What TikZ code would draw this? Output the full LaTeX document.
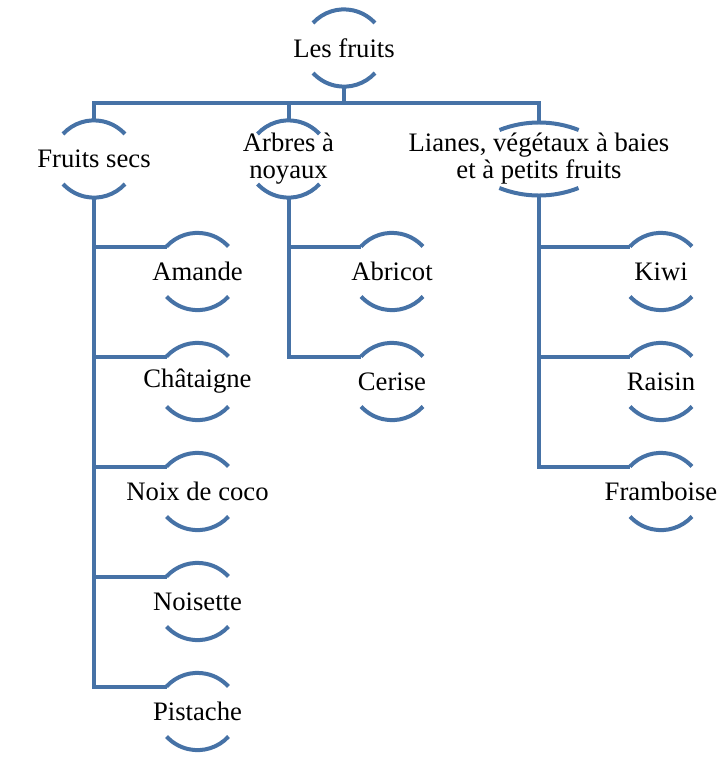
\documentclass[tikz,border=0pt]{standalone}
\usepackage{fontspec}
\setmainfont{Liberation Serif}
\usepackage{xcolor}
\usepackage{tikz}
\definecolor{linkblue}{RGB}{70,114,166}

\tikzset{
  link/.style={draw=linkblue, line width=3pt},
  brace/.style={draw=linkblue, line width=3pt},
  box/.style={inner sep=0pt, minimum width=46.5pt, minimum height=58.5pt, align=center,
    font=\rmfamily\fontsize{20}{20.3}\selectfont}
}
% arcs above and below a node: name, half chord, chord offset, radius, half angle
\newcommand{\brk}[5]{%
  \draw[brace] ([shift={(-#2,-#3)}]#1.center) arc[start angle=270-#5, end angle=270+#5, radius=#4];
  \draw[brace] ([shift={(#2,#3)}]#1.center) arc[start angle=90-#5, end angle=90+#5, radius=#4];}

\begin{document}
\begin{tikzpicture}[x=0.75pt,y=0.75pt,yscale=-1,xscale=1]
\useasboundingbox (0,0) rectangle (728,764);

% Text Node
\node[box] (root) at (344,48) {Les fruits};
% Text Node
\node[box] (fsecs) at (94,159) {Fruits secs};
% Text Node
\node[box] (arbres) at (288.5,159) {Arbres à\\noyaux};
% Text Node
\node[box, minimum height=54.75pt] (lianes) at (539,159) {Lianes, végétaux à baies\\et à petits fruits};

% Text Node
\node[box] (amande) at (197.5,271.5) {Amande};
\node[box] (chataigne) at (197.5,381.5) {Châtaigne};
\node[box] (noix) at (197.5,491.5) {Noix de coco};
\node[box] (noisette) at (197.5,601.5) {Noisette};
\node[box] (pistache) at (197.5,711.5) {Pistache};
% Text Node
\node[box] (abricot) at (392,271.5) {Abricot};
\node[box] (cerise) at (392,381.5) {Cerise};
% Text Node
\node[box] (kiwi) at (661,271.5) {Kiwi};
\node[box] (raisin) at (661,381.5) {Raisin};
\node[box] (framboise) at (661,491.5) {Framboise};

% Brackets
\foreach \n in {root,fsecs,arbres,amande,chataigne,noix,noisette,pistache,abricot,cerise,kiwi,raisin,framboise}
  {\brk{\n}{31}{25}{42}{47.5}}
\brk{lianes}{39.5}{29}{108}{21.5}

% Straight Lines
\coordinate (bus) at (344,103);
\draw[link] (root.south) -- (bus);
\draw[link] (fsecs.north) |- (bus) -| (lianes.north);
\draw[link] (arbres.north) -- (arbres.north |- bus);

% Straight Lines
\foreach \n in {amande,chataigne,noix,noisette,pistache}
  \draw[link] (fsecs.south) |- ([shift={(-31,-25)}]\n.center);
\foreach \n in {abricot,cerise}
  \draw[link] (arbres.south) |- ([shift={(-31,-25)}]\n.center);
\foreach \n in {kiwi,raisin,framboise}
  \draw[link] (lianes.south) |- ([shift={(-31,-25)}]\n.center);

\end{tikzpicture}
\end{document}
